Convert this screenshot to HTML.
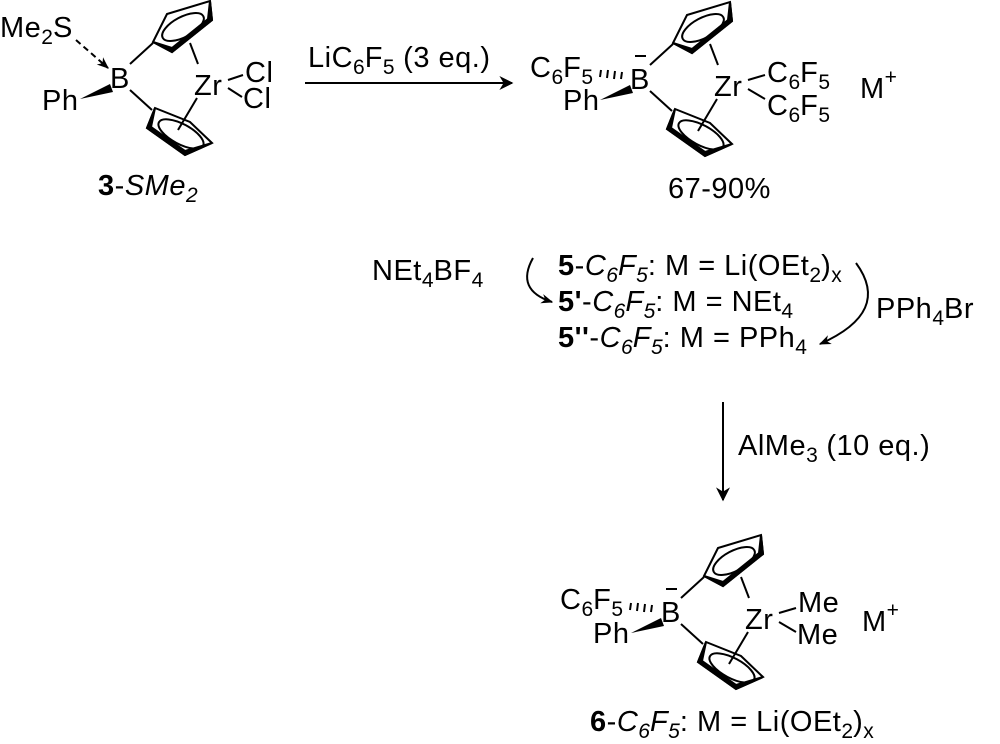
<!DOCTYPE html>
<html><head><meta charset="utf-8"><style>
html,body{margin:0;padding:0;background:#fff;}
svg{display:block;}
text{font-family:"Liberation Sans",Arial,sans-serif;font-size:29px;letter-spacing:0.5px;fill:#000;}
.s{font-size:21px;letter-spacing:0;}
</style></head><body>
<svg width="1000" height="744" viewBox="0 0 1000 744" xmlns="http://www.w3.org/2000/svg">
<defs>
<marker id="ah" viewBox="0 0 10 10" refX="9" refY="5" markerWidth="12" markerHeight="12" markerUnits="userSpaceOnUse" orient="auto">
<path d="M0,1 L10,5 L0,9 L3,5 z" fill="#000"/></marker>
<marker id="ah2" viewBox="0 0 10 10" refX="9" refY="5" markerWidth="20" markerHeight="14" markerUnits="userSpaceOnUse" orient="auto">
<path d="M0,0 L10,5 L0,10 L3,5 z" fill="#000"/></marker>
<g id="core" stroke="#000" fill="none" stroke-width="2">
<line x1="130" y1="64" x2="153" y2="43"/>
<line x1="130" y1="90" x2="152" y2="110"/>
<polygon points="153,42 167,14 210,1 212,20 172,52"/>
<path d="M153,42 L172,52 L212,20 L210,1 L208,19 L172,48 Z" fill="#000"/>
<ellipse cx="183" cy="27" rx="23" ry="10" transform="rotate(-28 183 27)"/>
<line x1="190" y1="43" x2="198" y2="64"/>
<line x1="197" y1="98" x2="178" y2="130"/>
<polygon points="155,108 147,128 185,155 212,143 190,122"/>
<path d="M155,108 L147,128 L185,155 L212,143 L185,151 L151,127 Z" fill="#000"/>
<ellipse cx="181" cy="134" rx="25" ry="10" transform="rotate(28 181 134)"/>
<polygon points="80,99 110,84 113,92" fill="#000" stroke="none"/>
</g>
</defs>

<!-- Molecule 3-SMe2 -->
<use href="#core"/>
<text x="0" y="37">Me<tspan class="s" dy="7">2</tspan><tspan dy="-7">S</tspan></text>
<line x1="76" y1="40" x2="108" y2="68" stroke="#000" stroke-width="2" stroke-dasharray="6,4" marker-end="url(#ah)"/>
<text x="110" y="88">B</text>
<text x="42" y="110">Ph</text>
<text x="194" y="95">Zr</text>
<line x1="228" y1="80" x2="243" y2="75" stroke="#000" stroke-width="2"/>
<line x1="228" y1="88" x2="242" y2="97" stroke="#000" stroke-width="2"/>
<text x="245" y="82">Cl</text>
<text x="243" y="108">Cl</text>
<text x="98" y="195"><tspan font-weight="bold">3</tspan>-<tspan font-style="italic">SMe</tspan><tspan class="s" font-style="italic" dy="7">2</tspan></text>

<!-- arrow 1 -->
<line x1="305" y1="83" x2="512" y2="83" stroke="#000" stroke-width="2" marker-end="url(#ah2)"/>
<text x="308" y="67">LiC<tspan class="s" dy="7">6</tspan><tspan dy="-7">F</tspan><tspan class="s" dy="7">5</tspan><tspan dy="-7"> (3 eq.)</tspan></text>

<!-- Molecule 5 -->
<use href="#core" transform="translate(520,1)"/>
<text x="530" y="77">C<tspan class="s" dy="7">6</tspan><tspan dy="-7">F</tspan><tspan class="s" dy="7">5</tspan></text>
<g stroke="#000" stroke-width="2">
<line x1="601" y1="70" x2="600" y2="77"/><line x1="608" y1="70" x2="607" y2="78"/><line x1="615" y1="71" x2="614" y2="79"/><line x1="622" y1="72" x2="621" y2="79"/>
<line x1="635" y1="56" x2="646" y2="56"/>
</g>
<text x="630" y="89">B</text>
<text x="563" y="110">Ph</text>
<text x="714" y="96">Zr</text>
<line x1="748" y1="80" x2="765" y2="75" stroke="#000" stroke-width="2"/>
<line x1="748" y1="89" x2="765" y2="99" stroke="#000" stroke-width="2"/>
<text x="767" y="82">C<tspan class="s" dy="7">6</tspan><tspan dy="-7">F</tspan><tspan class="s" dy="7">5</tspan></text>
<text x="767" y="115">C<tspan class="s" dy="7">6</tspan><tspan dy="-7">F</tspan><tspan class="s" dy="7">5</tspan></text>
<text x="860" y="98">M<tspan class="s" dy="-14">+</tspan></text>
<text x="668" y="198">67-90%</text>

<!-- middle text -->
<text x="372" y="280">NEt<tspan class="s" dy="7">4</tspan><tspan dy="-7">BF</tspan><tspan class="s" dy="7">4</tspan></text>
<text x="558" y="275"><tspan font-weight="bold">5</tspan>-<tspan font-style="italic">C</tspan><tspan class="s" font-style="italic" dy="7">6</tspan><tspan font-style="italic" dy="-7">F</tspan><tspan class="s" font-style="italic" dy="7">5</tspan><tspan dy="-7">: M = Li(OEt</tspan><tspan class="s" dy="7">2</tspan><tspan dy="-7">)</tspan><tspan class="s" dy="7">x</tspan></text>
<text x="558" y="311"><tspan font-weight="bold">5'</tspan>-<tspan font-style="italic">C</tspan><tspan class="s" font-style="italic" dy="7">6</tspan><tspan font-style="italic" dy="-7">F</tspan><tspan class="s" font-style="italic" dy="7">5</tspan><tspan dy="-7">: M = NEt</tspan><tspan class="s" dy="7">4</tspan></text>
<text x="558" y="347"><tspan font-weight="bold">5''</tspan>-<tspan font-style="italic">C</tspan><tspan class="s" font-style="italic" dy="7">6</tspan><tspan font-style="italic" dy="-7">F</tspan><tspan class="s" font-style="italic" dy="7">5</tspan><tspan dy="-7">: M = PPh</tspan><tspan class="s" dy="7">4</tspan></text>
<path d="M533,258 Q515,290 552,302" stroke="#000" stroke-width="2" fill="none" marker-end="url(#ah)"/>
<path d="M856,263 Q892,312 820,344" stroke="#000" stroke-width="2" fill="none" marker-end="url(#ah)"/>
<text x="876" y="318">PPh<tspan class="s" dy="7">4</tspan><tspan dy="-7">Br</tspan></text>

<!-- arrow 2 -->
<line x1="723" y1="402" x2="723" y2="500" stroke="#000" stroke-width="2" marker-end="url(#ah2)"/>
<text x="738" y="455">AlMe<tspan class="s" dy="7">3</tspan><tspan dy="-7"> (10 eq.)</tspan></text>

<!-- Molecule 6 -->
<use href="#core" transform="translate(551,534)"/>
<text x="560" y="609">C<tspan class="s" dy="7">6</tspan><tspan dy="-7">F</tspan><tspan class="s" dy="7">5</tspan></text>
<g stroke="#000" stroke-width="2">
<line x1="631" y1="603" x2="630" y2="610"/><line x1="638" y1="603" x2="637" y2="611"/><line x1="645" y1="604" x2="644" y2="612"/><line x1="652" y1="605" x2="651" y2="612"/>
<line x1="666" y1="589" x2="677" y2="589"/>
</g>
<text x="661" y="622">B</text>
<text x="593" y="643">Ph</text>
<text x="745" y="629">Zr</text>
<line x1="779" y1="613" x2="796" y2="608" stroke="#000" stroke-width="2"/>
<line x1="779" y1="622" x2="796" y2="632" stroke="#000" stroke-width="2"/>
<text x="798" y="612">Me</text>
<text x="797" y="644">Me</text>
<text x="862" y="631">M<tspan class="s" dy="-14">+</tspan></text>
<text x="590" y="731"><tspan font-weight="bold">6</tspan>-<tspan font-style="italic">C</tspan><tspan class="s" font-style="italic" dy="7">6</tspan><tspan font-style="italic" dy="-7">F</tspan><tspan class="s" font-style="italic" dy="7">5</tspan><tspan dy="-7">: M = Li(OEt</tspan><tspan class="s" dy="7">2</tspan><tspan dy="-7">)</tspan><tspan class="s" dy="7">x</tspan></text>
</svg>
</body></html>
